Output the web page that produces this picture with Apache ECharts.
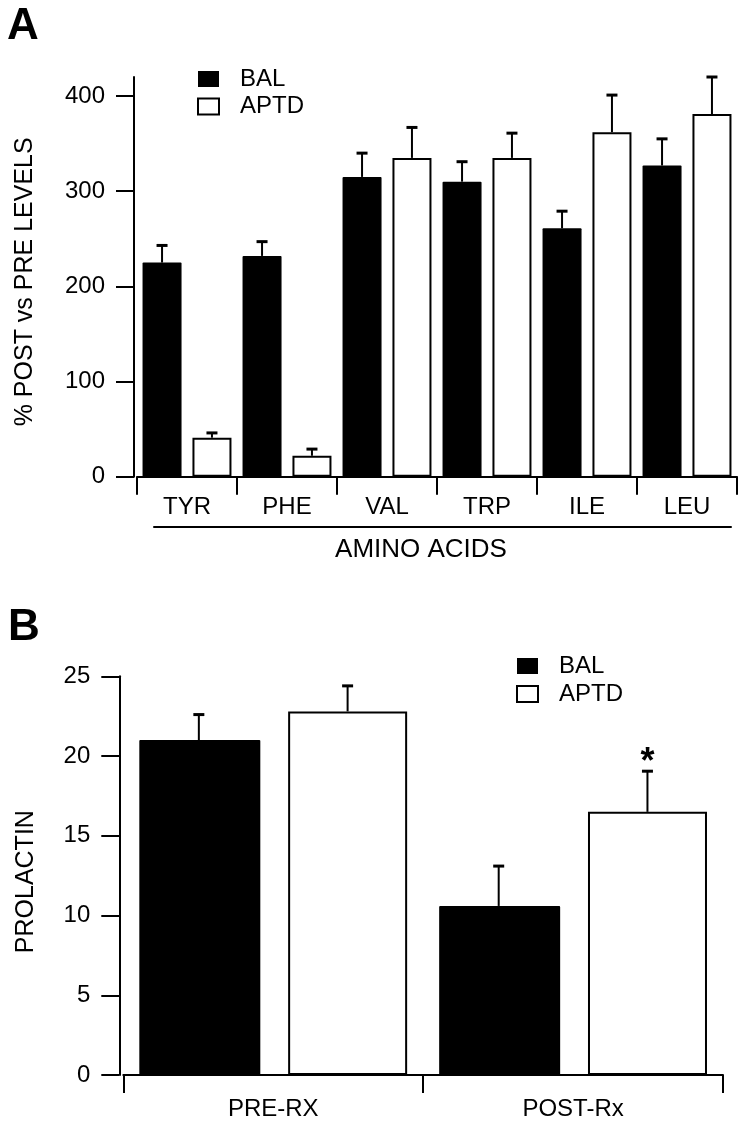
<!DOCTYPE html>
<html>
<head>
<meta charset="utf-8">
<script src="https://cdn.jsdelivr.net/npm/echarts@6/dist/echarts.min.js"></script>
<style>html,body{margin:0;padding:0;background:#fff;}#c{width:744px;height:1121px;}</style>
</head>
<body>
<div id="c"></div>
<script>
// ---- Panel A data ----
const categoriesA = ['TYR', 'PHE', 'VAL', 'TRP', 'ILE', 'LEU'];
const balA = [225, 232, 315, 310, 261, 327];
const balErrA = [18, 15, 25, 21, 18, 28];
const aptdA = [41, 22, 335, 335, 362, 381];
const aptdErrA = [5, 7, 32, 26, 39, 39];
const yTicksA = [0, 100, 200, 300, 400];

// ---- Panel B data ----
const categoriesB = ['PRE-RX', 'POST-Rx'];
const balB = [21.0, 10.6];
const balErrB = [1.6, 2.5];
const aptdB = [22.8, 16.5];
const aptdErrB = [1.6, 2.55];
const sigB = ['', '*'];
const yTicksB = [0, 5, 10, 15, 20, 25];

const FONT = 'Liberation Sans';
const barWA = 39, gapA = 0.28;
const barWB = 121, gapB = 0.23;

function errRender(sign, frac, marks) {
  return function (params, api) {
    const c = api.value(0), v = api.value(1), e = api.value(2);
    const base = api.coord([c, v]);
    const top = api.coord([c, v + e]);
    const band = api.size([1, 0])[0];
    const x = base[0] + sign * band * frac;
    const children = [
      { type: 'line', shape: { x1: x, y1: base[1], x2: x, y2: top[1] }, style: { stroke: '#000', lineWidth: 2 } },
      { type: 'line', shape: { x1: x - 5.5, y1: top[1], x2: x + 5.5, y2: top[1] }, style: { stroke: '#000', lineWidth: 3 } }
    ];
    if (marks && marks[params.dataIndex]) {
      children.push({ type: 'text', style: { text: marks[params.dataIndex], x: x, y: top[1] - 8, align: 'center', verticalAlign: 'middle', font: 'bold 36px "' + FONT + '"', fill: '#000' } });
    }
    return { type: 'group', children: children };
  };
}

const chart = echarts.init(document.getElementById('c'), null, { renderer: 'canvas' });

const axisLine = { show: true, lineStyle: { color: '#000', width: 2 } };
const axisTick = { show: true, length: 18, lineStyle: { color: '#000', width: 2 } };
const label = { color: '#000', fontSize: 24, fontFamily: FONT };

const option = {
  backgroundColor: '#fff',
  animation: false,
  textStyle: { fontFamily: FONT, color: '#000' },
  title: [
    { text: 'A', left: 7, top: 5, padding: 0, textStyle: { fontSize: 44, fontWeight: 'bold', fontFamily: FONT, color: '#000' } },
    { text: 'B', left: 8, top: 606, padding: 0, textStyle: { fontSize: 44, fontWeight: 'bold', fontFamily: FONT, color: '#000' } }
  ],
  legend: [
    {
      left: 197, top: 67, padding: 0, orient: 'vertical', icon: 'rect', itemWidth: 21, itemHeight: 16, itemGap: 3.5,
      data: ['BAL', 'APTD'],
      textStyle: { fontSize: 24, fontFamily: FONT, color: '#000', padding: [0, 0, 0, 16] }
    },
    {
      left: 516, top: 654, padding: 0, orient: 'vertical', icon: 'rect', itemWidth: 21, itemHeight: 16, itemGap: 4,
      data: ['BAL', 'APTD'],
      textStyle: { fontSize: 24, fontFamily: FONT, color: '#000', padding: [0, 0, 0, 16] }
    }
  ],
  grid: [
    { left: 137, right: 7, top: 77, bottom: 644.3 },
    { left: 123.3, right: 21, top: 676.3, bottom: 44.7 },
    { left: 154, right: 13, top: 400, bottom: 594.3 }
  ],
  xAxis: [
    {
      type: 'category', gridIndex: 0, data: categoriesA, offset: 3,
      axisLine: axisLine, axisTick: axisTick,
      axisLabel: Object.assign({ margin: 16, interval: 0 }, label),
      splitLine: { show: false }
    },
    {
      type: 'category', gridIndex: 1, data: categoriesB, offset: 4,
      axisLine: axisLine, axisTick: axisTick,
      axisLabel: Object.assign({ margin: 18, interval: 0 }, label),
      splitLine: { show: false }
    },
    {
      type: 'value', gridIndex: 2, min: 0, max: 1,
      axisLine: axisLine, axisTick: { show: false }, axisLabel: { show: false }, splitLine: { show: false },
      name: 'AMINO ACIDS', nameLocation: 'middle', nameGap: 10,
      nameTextStyle: { fontSize: 26, fontFamily: FONT, color: '#000', padding: [0, 43, 0, 0] }
    }
  ],
  yAxis: [
    {
      type: 'value', gridIndex: 0, min: 0, max: 420, interval: 100, offset: 3,
      axisLine: axisLine,
      axisTick: Object.assign({ customValues: yTicksA }, axisTick),
      axisLabel: Object.assign({ margin: 29, customValues: yTicksA }, label),
      splitLine: { show: false },
      name: '% POST vs PRE LEVELS', nameLocation: 'middle', nameGap: 96, nameRotate: 90,
      nameTextStyle: { fontSize: 25, fontFamily: FONT, color: '#000', padding: [0, 10, 0, 0] }
    },
    {
      type: 'value', gridIndex: 1, min: 0, max: 25, interval: 5, offset: 4,
      axisLine: axisLine,
      axisTick: Object.assign({ customValues: yTicksB }, axisTick),
      axisLabel: Object.assign({ margin: 29, customValues: yTicksB }, label),
      splitLine: { show: false },
      name: 'PROLACTIN', nameLocation: 'middle', nameGap: 81, nameRotate: 90,
      nameTextStyle: { fontSize: 25, fontFamily: FONT, color: '#000', padding: [0, 12, 0, 0] }
    },
    { type: 'value', gridIndex: 2, show: false }
  ],
  series: [
    {
      name: 'BAL', type: 'bar', xAxisIndex: 0, yAxisIndex: 0, data: balA,
      barWidth: barWA, barGap: (gapA * 100) + '%',
      itemStyle: { color: '#000', borderRadius: 1 }
    },
    {
      name: 'APTD', type: 'bar', xAxisIndex: 0, yAxisIndex: 0, data: aptdA,
      barWidth: barWA, barGap: (gapA * 100) + '%',
      itemStyle: { color: '#fff', borderColor: '#000', borderWidth: 2 }
    },
    {
      name: 'BAL', type: 'bar', xAxisIndex: 1, yAxisIndex: 1, data: balB,
      barWidth: barWB, barGap: (gapB * 100) + '%',
      itemStyle: { color: '#000', borderRadius: 1 }
    },
    {
      name: 'APTD', type: 'bar', xAxisIndex: 1, yAxisIndex: 1, data: aptdB,
      barWidth: barWB - 2, barGap: (gapB * 100) + '%',
      itemStyle: { color: '#fff', borderColor: '#000', borderWidth: 2 }
    },
    {
      type: 'custom', xAxisIndex: 0, yAxisIndex: 0, z: 5,
      renderItem: errRender(-1, barWA * (1 + gapA) / 2 / 100, null),
      data: balA.map((v, i) => [i, v, balErrA[i]])
    },
    {
      type: 'custom', xAxisIndex: 0, yAxisIndex: 0, z: 5,
      renderItem: errRender(1, barWA * (1 + gapA) / 2 / 100, null),
      data: aptdA.map((v, i) => [i, v, aptdErrA[i]])
    },
    {
      type: 'custom', xAxisIndex: 1, yAxisIndex: 1, z: 5,
      renderItem: errRender(-1, barWB * (1 + gapB) / 2 / 300, null),
      data: balB.map((v, i) => [i, v, balErrB[i]])
    },
    {
      type: 'custom', xAxisIndex: 1, yAxisIndex: 1, z: 5, clip: false,
      renderItem: errRender(1, barWB * (1 + gapB) / 2 / 300, sigB),
      data: aptdB.map((v, i) => [i, v, aptdErrB[i]])
    }
  ]
};
chart.setOption(option);
</script>
</body>
</html>
